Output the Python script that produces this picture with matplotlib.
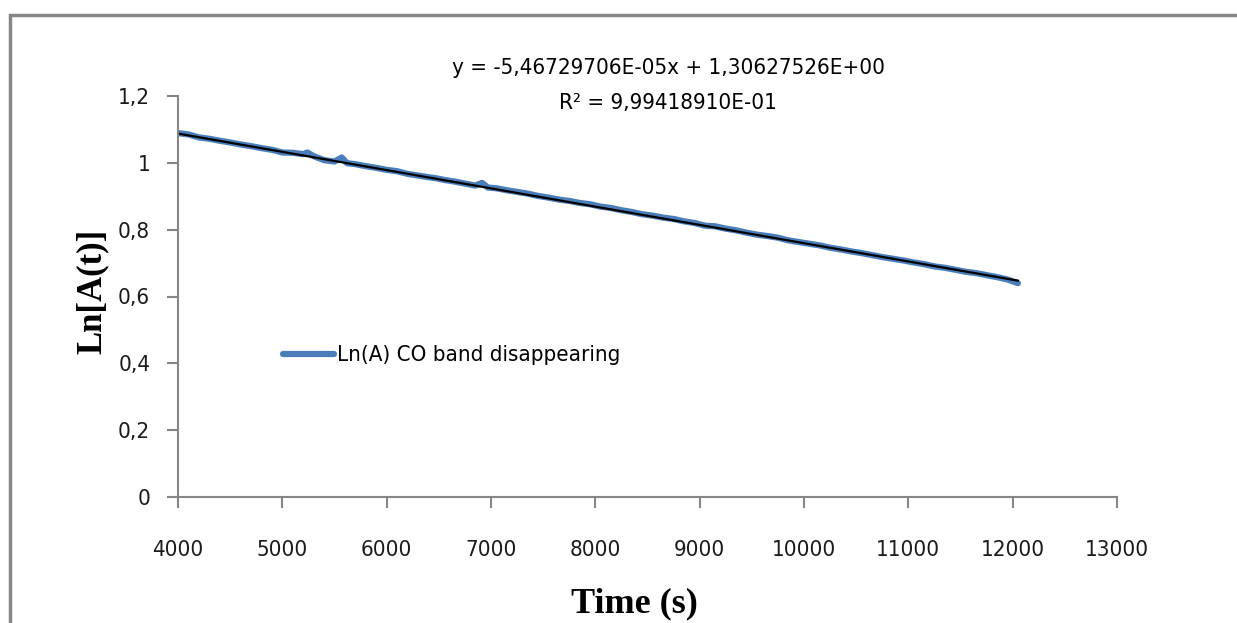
import numpy as np
import matplotlib.pyplot as plt
from matplotlib.patches import Rectangle

# data
time_s = [4000, 4100, 4200, 4300, 4400, 4500, 4600, 4700, 4800, 4900,
          5000, 5100, 5200, 5240, 5300, 5400, 5500, 5570, 5620, 5700,
          5800, 5900, 6000, 6100, 6200, 6300, 6400, 6470, 6550, 6650,
          6750, 6850, 6915, 6970, 7050, 7150, 7250, 7350, 7450, 7550,
          7650, 7750, 7850, 7950, 8050, 8150, 8250, 8350, 8450, 8550,
          8650, 8750, 8850, 8950, 9050, 9150, 9250, 9350, 9450, 9550,
          9650, 9750, 9850, 9950, 10050, 10150, 10250, 10350, 10450, 10550,
          10650, 10750, 10850, 10950, 11050, 11150, 11250, 11350, 11450, 11550,
          11650, 11750, 11850, 11950, 12050]
ln_a = [1.089, 1.085, 1.076, 1.072, 1.066, 1.061, 1.055, 1.050, 1.044, 1.039,
        1.031, 1.030, 1.026, 1.031, 1.020, 1.008, 1.004, 1.016, 0.999, 0.996,
        0.990, 0.985, 0.979, 0.975, 0.967, 0.962, 0.957, 0.954, 0.949, 0.944,
        0.938, 0.932, 0.940, 0.926, 0.924, 0.918, 0.913, 0.908, 0.901, 0.896,
        0.890, 0.886, 0.880, 0.876, 0.869, 0.865, 0.858, 0.853, 0.846, 0.842,
        0.836, 0.832, 0.825, 0.820, 0.812, 0.810, 0.803, 0.798, 0.791, 0.785,
        0.781, 0.776, 0.768, 0.763, 0.758, 0.753, 0.746, 0.741, 0.735, 0.730,
        0.724, 0.718, 0.713, 0.708, 0.702, 0.697, 0.690, 0.686, 0.680, 0.674,
        0.670, 0.664, 0.658, 0.651, 0.640]

slope = -5.46729706e-05
intercept = 1.30627526

xticks = [4000, 5000, 6000, 7000, 8000, 9000, 10000, 11000, 12000, 13000]
yticks = [0, 0.2, 0.4, 0.6, 0.8, 1.0, 1.2]
ytick_labels = ['0', '0,2', '0,4', '0,6', '0,8', '1', '1,2']

grey = '#868686'
font_kw = dict(family='DejaVu Sans', stretch='condensed', size=16)

fig = plt.figure(figsize=(12.37, 6.23), dpi=100)
# outer chart border
fig.patches.append(Rectangle((10 / 1237, -0.1), 1.2, 1 - 15 / 623 + 0.1,
                             transform=fig.transFigure, fill=False,
                             edgecolor=grey, linewidth=2.5))

ax = fig.add_axes([178 / 1237, 1 - 497 / 623, (1117 - 178) / 1237, (497 - 96) / 623])

ax.plot(time_s, ln_a, color='#4a7ebb', linewidth=4.5, solid_capstyle='round',
        label='Ln(A) CO band disappearing')
fit_x = np.array([time_s[0], time_s[-1]])
ax.plot(fit_x, slope * fit_x + intercept, color='black', linewidth=1.6)

ax.set_xlim(4000, 13000)
ax.set_ylim(0, 1.2)
ax.set_xticks(xticks)
ax.set_xticklabels([str(t) for t in xticks], **font_kw)
ax.set_yticks(yticks)
ax.set_yticklabels(ytick_labels, **font_kw)
ax.tick_params(axis='both', colors=grey, labelcolor='#1a1a1a', length=8, width=1.5)
ax.tick_params(axis='x', pad=23)
ax.tick_params(axis='y', pad=12)

for s in ['top', 'right']:
    ax.spines[s].set_visible(False)
for s in ['left', 'bottom']:
    ax.spines[s].set_color(grey)
    ax.spines[s].set_linewidth(1.5)

ax.set_xlabel('Time (s)', family='Liberation Serif', fontweight='bold', fontsize=26)
ax.xaxis.set_label_coords(0.486, -0.225)
ax.set_ylabel('Ln[A(t)]', family='Liberation Serif', fontweight='bold', fontsize=25)
ax.yaxis.set_label_coords(-0.074, 0.514)

fig.text(668 / 1237, 1 - 68 / 623, 'y = -5,46729706E-05x + 1,30627526E+00',
         ha='center', va='center', **font_kw)
fig.text(668 / 1237, 1 - 103 / 623, 'R² = 9,99418910E-01',
         ha='center', va='center', **font_kw)

leg = ax.legend(loc='upper left', bbox_to_anchor=(0.09, 0.428), frameon=False,
                prop=font_kw, handlelength=2.3, handletextpad=0.15)

fig.savefig('out.png', dpi=100)
